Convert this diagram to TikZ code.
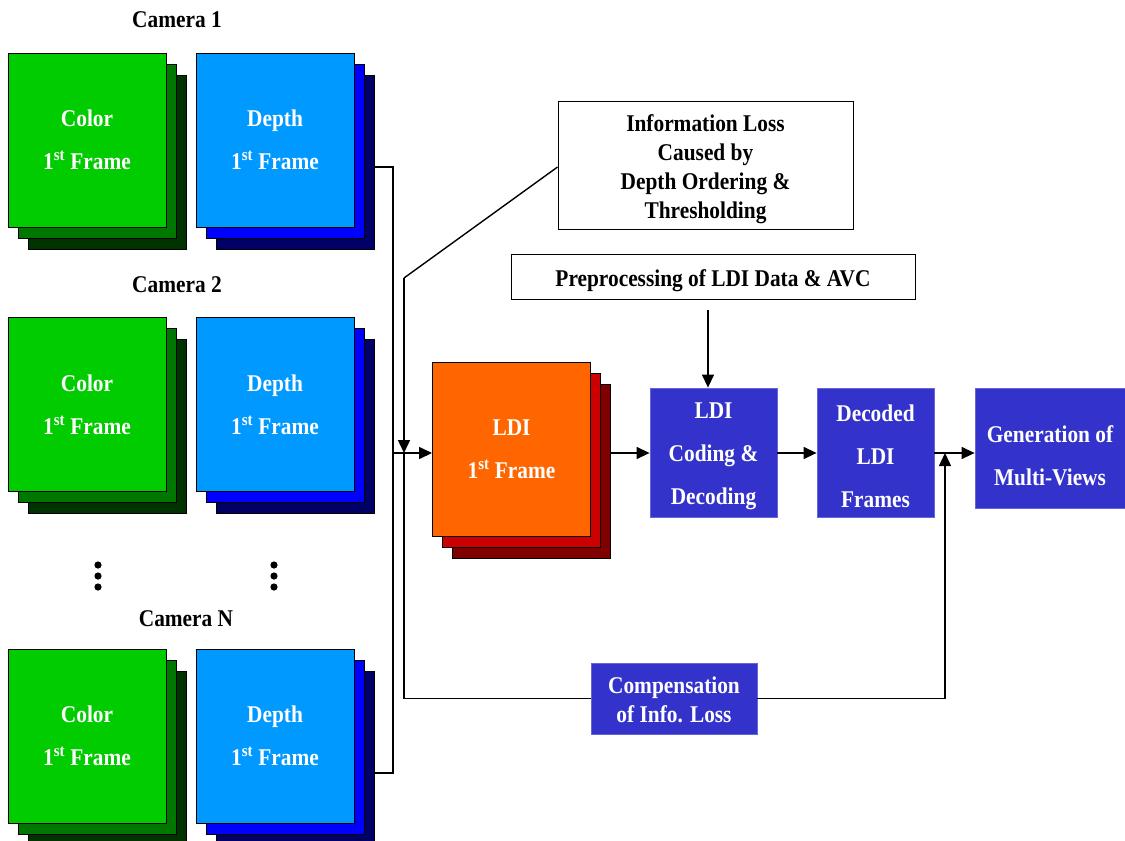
\documentclass[tikz,border=0pt]{standalone}
\usepackage{fontspec}
\setmainfont{Liberation Serif}[FakeStretch=0.89]
\usetikzlibrary{arrows.meta}
\definecolor{gA}{HTML}{00CC00}
\definecolor{gB}{HTML}{007700}
\definecolor{gC}{HTML}{003300}
\definecolor{bA}{HTML}{0099FF}
\definecolor{bB}{HTML}{0000FF}
\definecolor{bC}{HTML}{000066}
\definecolor{oA}{HTML}{FF6600}
\definecolor{oB}{HTML}{CC0000}
\definecolor{oC}{HTML}{800000}
\definecolor{boxblue}{HTML}{3333CC}
\newcommand\figbig{\fontsize{24}{43}\selectfont\bfseries}
\newcommand\figsmall{\fontsize{24}{29}\selectfont\bfseries}
\newcommand\mystack[7]{%
  \node[layer,fill=#6] (#1c) at (#2+20,#3+22) {};
  \node[layer,fill=#5] (#1b) at (#2+10,#3+11) {};
  \node[layer,fill=#4,text=white] (#1) at (#2,#3) {#7};
}
\begin{document}
\begin{tikzpicture}[x=1pt,y=-1pt,
  layer/.style={draw=black,line width=0.9pt,minimum width=158pt,minimum height=174pt,inner sep=0pt,align=center,font=\figbig},
  proc/.style={fill=boxblue,draw=boxblue!75!white,line width=0.8pt,inner sep=0pt},
  ptext/.style={text=white,align=center,inner sep=0pt},
  note/.style={draw=black,fill=white,line width=0.9pt,inner sep=0pt},
  ntext/.style={text=black,align=center,inner sep=0pt,font=\figsmall},
  lab/.style={font=\fontsize{24}{29}\selectfont\bfseries,inner sep=0pt},
  wire/.style={line width=1.4pt,draw=black},
  arr/.style={-{Triangle[length=13pt,width=12pt]}}]
\useasboundingbox (0,0) rectangle (1125,841);

% camera labels
\node[lab] (cam1) at (177,20) {Camera 1};
\node[lab] (cam2) at (177,285) {Camera 2};
\node[lab] (camN) at (186,619) {Camera N};

% stacks
\mystack{c1}{87}{140}{gA}{gB}{gC}{Color\\1\textsuperscript{st} Frame}
\mystack{d1}{275}{140}{bA}{bB}{bC}{Depth\\1\textsuperscript{st} Frame}
\mystack{c2}{87}{404.5}{gA}{gB}{gC}{Color\\1\textsuperscript{st} Frame}
\mystack{d2}{275}{404.5}{bA}{bB}{bC}{Depth\\1\textsuperscript{st} Frame}
\mystack{cN}{87}{736}{gA}{gB}{gC}{Color\\1\textsuperscript{st} Frame}
\mystack{dN}{275}{736}{bA}{bB}{bC}{Depth\\1\textsuperscript{st} Frame}
\mystack{ldi}{511.5}{449}{oA}{oB}{oC}{LDI\\1\textsuperscript{st} Frame}

% dots
\foreach \yy in {565,576,587}{
  \fill (98,\yy) circle (3.6pt);
  \fill (274,\yy) circle (3.6pt);
}

% boxes
\node[note,minimum width=295pt,minimum height=128pt,
  label={[ntext,yshift=-4pt]center:{Information Loss\\Caused by\\Depth Ordering \&\\Thresholding}}]
  (info) at (705.5,165) {};
\node[note,minimum width=404pt,minimum height=45pt,
  label={[ntext,yshift=-4pt]center:{Preprocessing of LDI Data \& AVC}}]
  (prep) at (713,276.5) {};
\node[proc,minimum width=127pt,minimum height=129pt,
  label={[ptext,font=\figbig,yshift=-4pt]center:{LDI\\Coding \&\\Decoding}}]
  (cod) at (713.5,452.5) {};
\node[proc,minimum width=117pt,minimum height=129pt,
  label={[ptext,font=\figbig,yshift=-4pt]center:{Decoded\\LDI\\Frames}}]
  (dec) at (875.5,452.5) {};
\node[proc,minimum width=150pt,minimum height=120pt,
  label={[ptext,font=\figbig,yshift=-8pt]center:{Generation of\\Multi-Views}}]
  (gen) at (1050,448) {};
\node[proc,minimum width=166pt,minimum height=71pt,
  label={[ptext,font=\figsmall,yshift=-1pt]center:{Compensation\\of Info. Loss}}]
  (comp) at (674,698.5) {};

% connectors
\coordinate (bx) at (393,0);
\draw[wire] ([yshift=-5pt]d1c.east) -- ([yshift=-5pt]d1c.east -| bx)
  -- ([yshift=-15pt]dNc.east -| bx) -- ([yshift=-15pt]dNc.east);
\coordinate (j1) at (393,453);
\draw[wire,arr] (j1) -- (j1 -| ldi.west);
\coordinate (k) at (404,278);
\coordinate (j2) at (404,453);
\draw[wire] ([yshift=-2pt]info.west) -- (k);
\draw[wire,arr] (k) -- (j2);
\draw[wire] (j2) -- (j2 |- comp.west) -- (comp.west);
\draw[wire,arr] (ldic.east |- j1) -- (cod.west |- j1);
\draw[wire,arr] (cod.east |- j1) -- (dec.west |- j1);
\draw[wire,arr] (dec.east |- j1) -- (gen.west |- j1);
\coordinate (j3) at (945,453);
\draw[wire,arr] (comp.east) -| (j3);
\coordinate (pa) at (708,310);
\draw[wire,arr] (pa) -- (pa |- cod.north);
\end{tikzpicture}
\end{document}
